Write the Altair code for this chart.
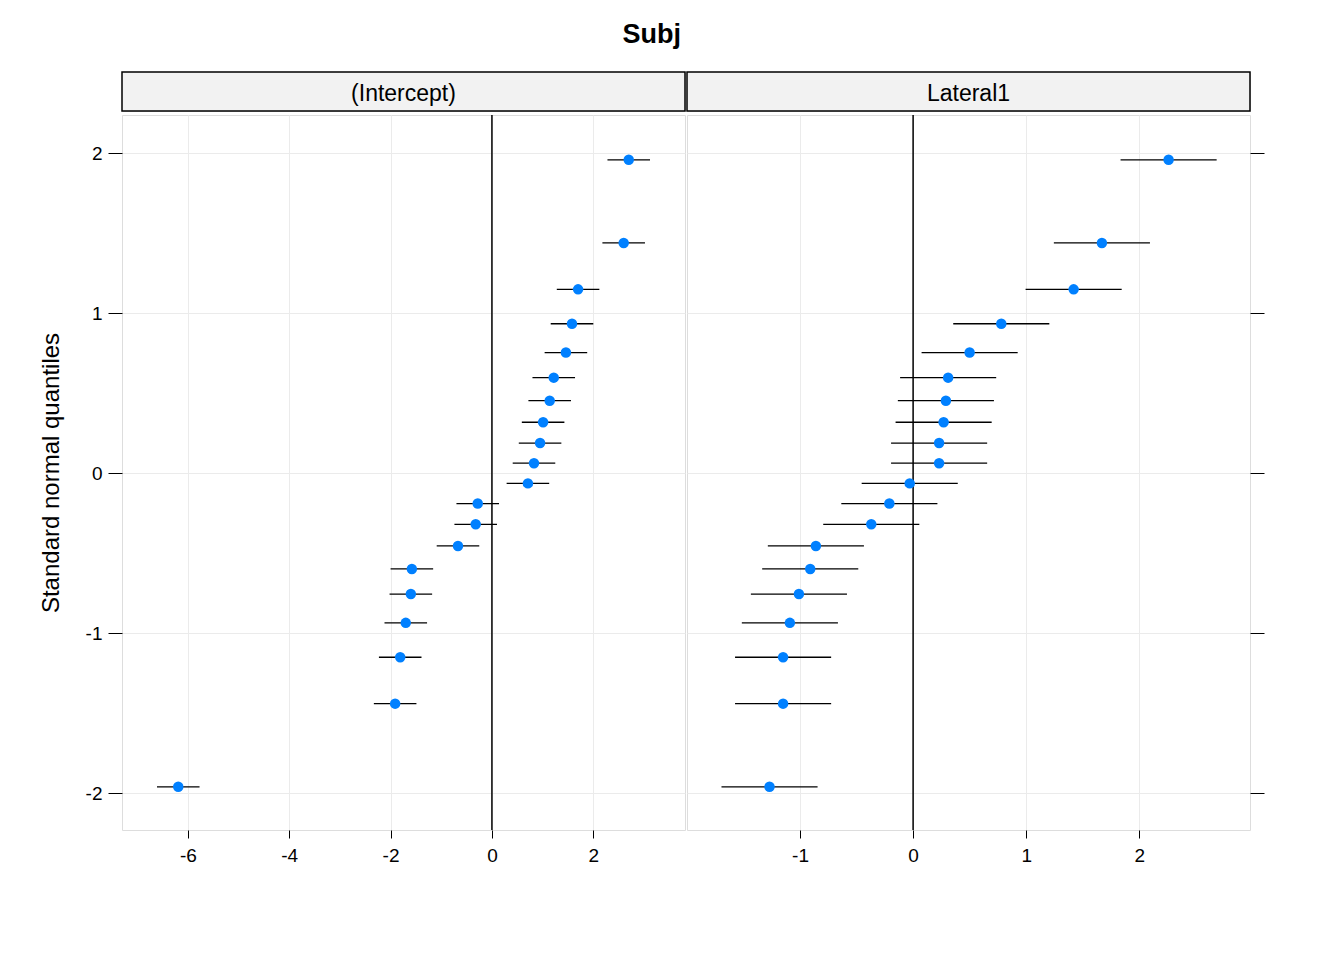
import altair as alt
import pandas as pd

quant = [1.960, 1.440, 1.150, 0.935, 0.755, 0.598, 0.454, 0.319, 0.189, 0.063,
         -0.063, -0.189, -0.319, -0.454, -0.598, -0.755, -0.935, -1.150, -1.440, -1.960]
intercept = [2.70, 2.60, 1.70, 1.58, 1.46, 1.22, 1.14, 1.01, 0.95, 0.83,
             0.71, -0.28, -0.32, -0.67, -1.58, -1.60, -1.70, -1.81, -1.91, -6.19]
intercept_se = [0.42] * 20
lateral = [2.26, 1.67, 1.42, 0.78, 0.50, 0.31, 0.29, 0.27, 0.23, 0.23,
           -0.03, -0.21, -0.37, -0.86, -0.91, -1.01, -1.09, -1.15, -1.15, -1.27]
lateral_se = [0.425] * 20

W, H, HEAD = 563, 715, 39
grid = "#ebebeb"


def panel(name, vals, se, xdom, xticks, left):
    df = pd.DataFrame({"q": quant, "x": vals,
                       "lo": [v - s for v, s in zip(vals, se)],
                       "hi": [v + s for v, s in zip(vals, se)]})
    xs = alt.Scale(domain=xdom, nice=False, zero=False)
    ys = alt.Scale(domain=[-2.23, 2.24], nice=False, zero=False)
    xax = alt.Axis(values=xticks, grid=True, gridColor=grid, domain=False,
                   tickColor="black", tickSize=8, labelFontSize=19,
                   labelExpr="'' + datum.value",
                   labelColor="black", labelPadding=8, title=None)
    yax = alt.Axis(values=[-2, -1, 0, 1, 2], grid=True, gridColor=grid,
                   domain=False, tickColor="black", tickSize=14,
                   labels=left, labelFontSize=19, labelColor="black",
                   labelExpr="'' + datum.value",
                   labelPadding=6, orient="left" if left else "right",
                   title="Standard normal quantiles" if left else None,
                   titleFontSize=24, titleFontWeight="normal",
                   titleColor="black", titlePadding=22)
    base = alt.Chart(df)
    zero = alt.Chart(pd.DataFrame({"z": [0]})).mark_rule(color="black", strokeWidth=1.5).encode(
        x=alt.X("z:Q", scale=xs, axis=xax))
    bars = base.mark_rule(color="black", strokeWidth=1.3).encode(
        x=alt.X("lo:Q", scale=xs, axis=xax), x2="hi:Q",
        y=alt.Y("q:Q", scale=ys, axis=yax))
    pts = base.mark_circle(color="#0080ff", opacity=1, size=110).encode(
        x=alt.X("x:Q", scale=xs), y=alt.Y("q:Q", scale=ys))
    plot = alt.layer(zero, bars, pts).properties(width=W, height=H)
    head = alt.layer(
        alt.Chart(pd.DataFrame({"t": [name]})).mark_rect(
            fill="#f2f2f2", stroke="black", strokeWidth=1.5).encode(
            x=alt.value(0), x2=alt.value(W), y=alt.value(0), y2=alt.value(HEAD)),
        alt.Chart(pd.DataFrame({"t": [name]})).mark_text(
            fontSize=23, color="black", baseline="middle").encode(
            x=alt.value(W / 2), y=alt.value(HEAD / 2 + 2), text="t:N"),
    ).properties(width=W, height=HEAD)
    return alt.vconcat(head, plot, spacing=0)


left = panel("(Intercept)", intercept, intercept_se, [-7.30, 3.81], [-6, -4, -2, 0, 2], True)
right = panel("Lateral1", lateral, lateral_se, [-2.0, 2.98], [-1, 0, 1, 2], False)

chart = alt.hconcat(left, right, spacing=-4).properties(
    title=alt.TitleParams("Subj", fontSize=27, fontWeight="bold", color="black",
                          anchor="middle", offset=22),
    padding={"left": 30, "top": 12, "right": 5, "bottom": 5}
).configure_view(stroke="black", strokeWidth=1.8).configure(
    font="Liberation Sans", background="white")

chart.save("out.html", embed_options={"renderer": "svg", "actions": False})
